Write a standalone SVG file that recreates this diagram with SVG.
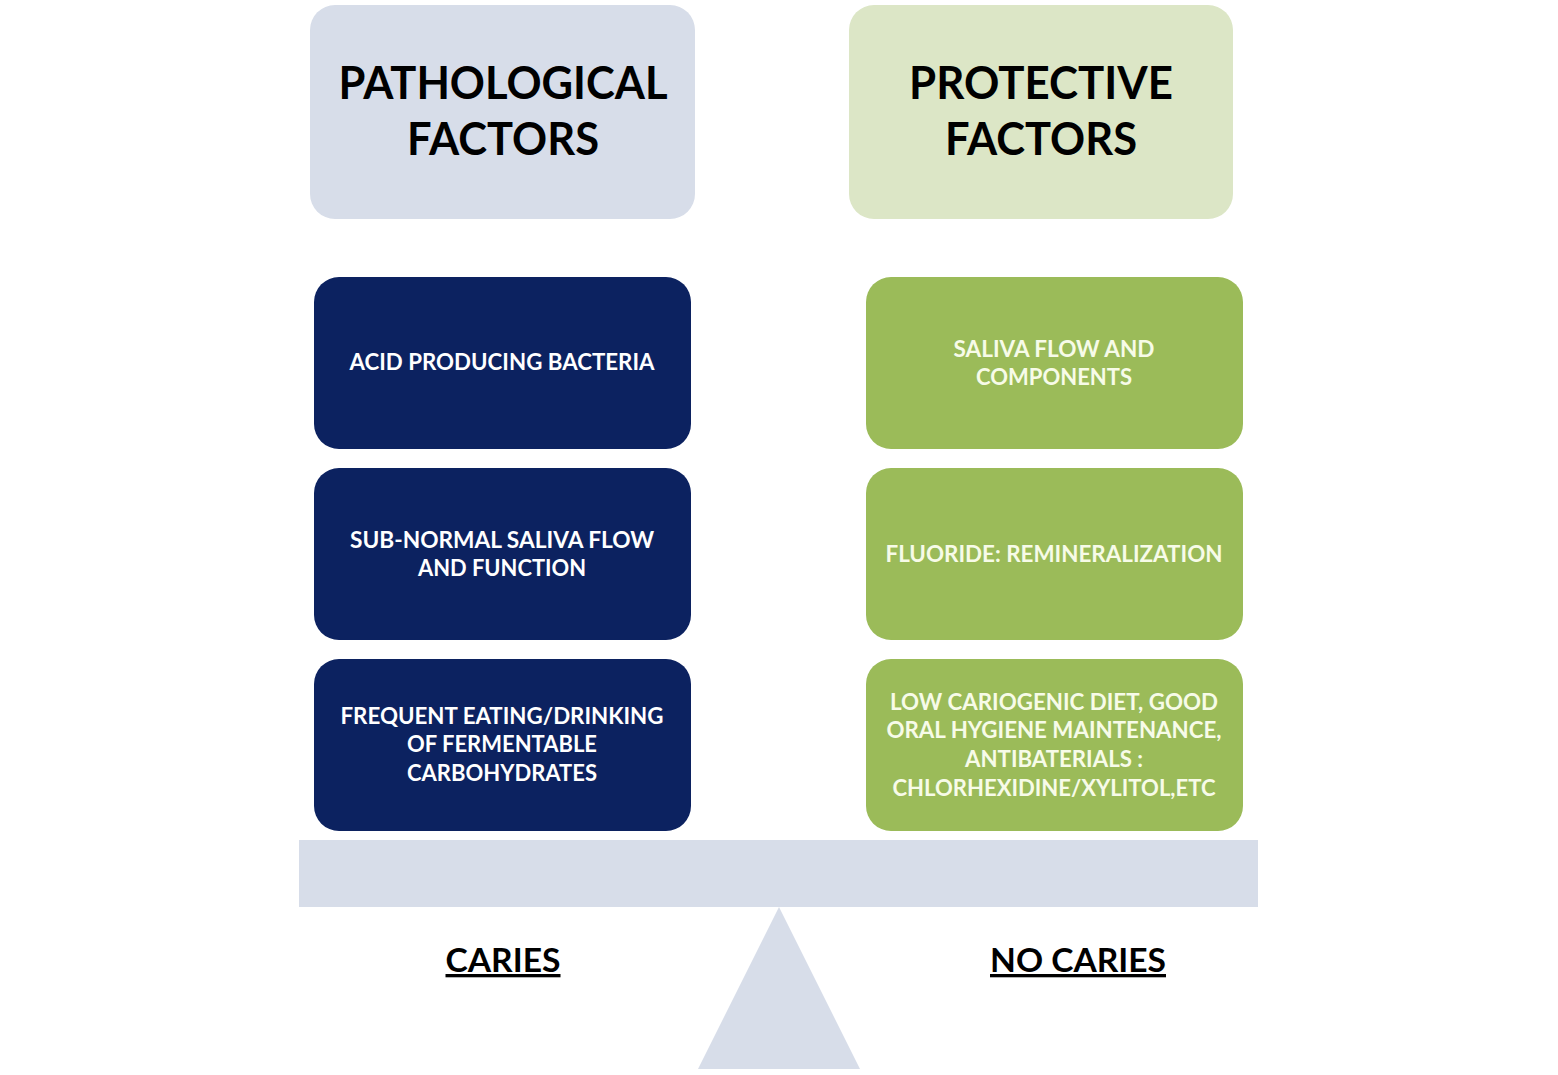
<svg xmlns="http://www.w3.org/2000/svg" width="1558" height="1075" viewBox="0 0 1558 1075">
<style>
.hdr{font-family:Lato,"Liberation Sans",sans-serif;font-weight:bold;font-size:45px;fill:#000;text-anchor:middle}
.bt{font-family:Lato,"Liberation Sans",sans-serif;font-weight:bold;font-size:22px;fill:#fff;text-anchor:middle}
.gt{font-family:Lato,"Liberation Sans",sans-serif;font-weight:bold;font-size:22px;fill:#f7fbe8;text-anchor:middle}
.lbl{font-family:Lato,"Liberation Sans",sans-serif;font-weight:bold;font-size:33px;fill:#000;text-anchor:middle;text-decoration:underline}
.dark{fill:#0c2260}
.green{fill:#9bbb59}
</style>
<rect width="1558" height="1075" fill="#fff"/>
<g id="hdr-path">
<rect x="310" y="5" width="385" height="214" rx="25" fill="#d7dde9"/>
<text class="hdr" x="503" y="99" textLength="329" lengthAdjust="spacingAndGlyphs">PATHOLOGICAL</text>
<text class="hdr" x="503" y="155" textLength="192" lengthAdjust="spacingAndGlyphs">FACTORS</text>
</g>
<g id="hdr-prot">
<rect x="849" y="5" width="384" height="214" rx="25" fill="#dce6c6"/>
<text class="hdr" x="1041" y="99" textLength="264" lengthAdjust="spacingAndGlyphs">PROTECTIVE</text>
<text class="hdr" x="1041" y="155" textLength="192" lengthAdjust="spacingAndGlyphs">FACTORS</text>
</g>
<g id="p1">
<rect class="dark" x="314" y="277" width="377" height="172" rx="25"/>
<text class="bt" x="502" y="370" textLength="305" lengthAdjust="spacingAndGlyphs">ACID PRODUCING BACTERIA</text>
</g>
<g id="p2">
<rect class="dark" x="314" y="468" width="377" height="172" rx="25"/>
<text class="bt" x="502" y="548" textLength="304" lengthAdjust="spacingAndGlyphs">SUB-NORMAL SALIVA FLOW</text>
<text class="bt" x="502" y="576" textLength="168" lengthAdjust="spacingAndGlyphs">AND FUNCTION</text>
</g>
<g id="p3">
<rect class="dark" x="314" y="659" width="377" height="172" rx="25"/>
<text class="bt" x="502" y="724" textLength="323" lengthAdjust="spacingAndGlyphs">FREQUENT EATING/DRINKING</text>
<text class="bt" x="502" y="752" textLength="190" lengthAdjust="spacingAndGlyphs">OF FERMENTABLE</text>
<text class="bt" x="502" y="781" textLength="190" lengthAdjust="spacingAndGlyphs">CARBOHYDRATES</text>
</g>
<g id="g1">
<rect class="green" x="866" y="277" width="377" height="172" rx="25"/>
<text class="gt" x="1054" y="357" textLength="201" lengthAdjust="spacingAndGlyphs">SALIVA FLOW AND</text>
<text class="gt" x="1054" y="385" textLength="156" lengthAdjust="spacingAndGlyphs">COMPONENTS</text>
</g>
<g id="g2">
<rect class="green" x="866" y="468" width="377" height="172" rx="25"/>
<text class="gt" x="1054" y="562" textLength="337" lengthAdjust="spacingAndGlyphs">FLUORIDE: REMINERALIZATION</text>
</g>
<g id="g3">
<rect class="green" x="866" y="659" width="377" height="172" rx="25"/>
<text class="gt" x="1054" y="710" textLength="328" lengthAdjust="spacingAndGlyphs">LOW CARIOGENIC DIET, GOOD</text>
<text class="gt" x="1054" y="738" textLength="335" lengthAdjust="spacingAndGlyphs">ORAL HYGIENE MAINTENANCE,</text>
<text class="gt" x="1054" y="767" textLength="178" lengthAdjust="spacingAndGlyphs">ANTIBATERIALS :</text>
<text class="gt" x="1054" y="796" textLength="323" lengthAdjust="spacingAndGlyphs">CHLORHEXIDINE/XYLITOL,ETC</text>
</g>
<g id="scale">
<rect x="299" y="840" width="959" height="67" fill="#d7dde9"/>
<polygon points="779,907 860,1069 698,1069" fill="#d7dde9"/>
</g>
<g id="labels">
<text class="lbl" x="503" y="972" textLength="115" lengthAdjust="spacingAndGlyphs">CARIES</text>
<text class="lbl" x="1078" y="972" textLength="176" lengthAdjust="spacingAndGlyphs">NO CARIES</text>
</g>
<g id="connectors"/>
</svg>
